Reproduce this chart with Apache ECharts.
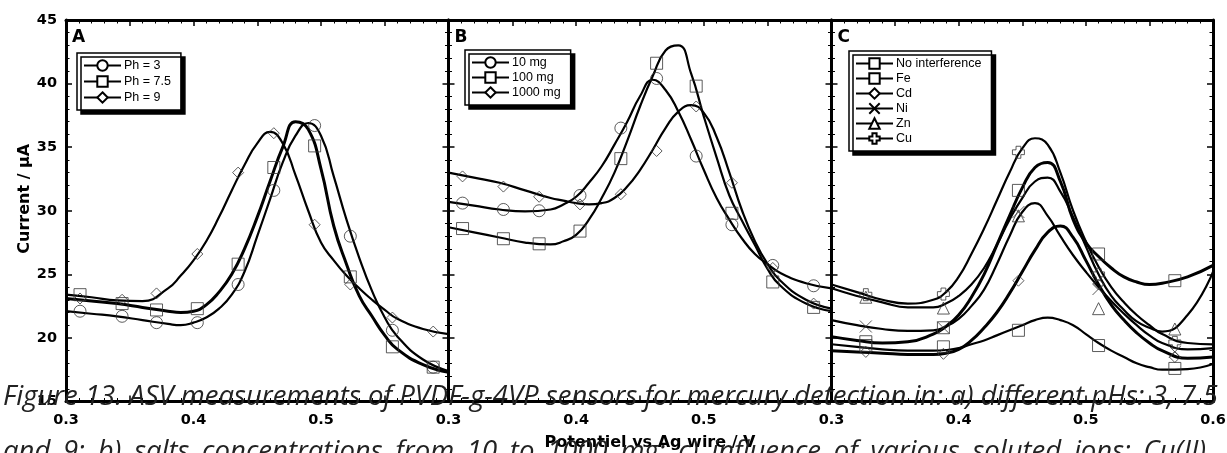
<!DOCTYPE html>
<html>
<head>
<meta charset="utf-8">
<title>ASV measurements of PVDF-g-4VP sensors</title>
<script src="https://cdn.jsdelivr.net/npm/echarts@6.0.0/dist/echarts.min.js"></script>
<style>
    html, body {margin: 0; padding: 0; background: #fff;}
    #chart {width: 1227px; height: 453px;}
</style>
</head>
<body>
<div id="chart"></div>
<script>
var curveX = [0.30, 0.32, 0.34, 0.36, 0.38, 0.39, 0.40, 0.41, 0.42, 0.43, 0.44, 0.45, 0.46,
    0.47, 0.48, 0.49, 0.50, 0.51, 0.52, 0.53, 0.54, 0.55, 0.56, 0.58, 0.60];

// A - pH
var ph3Curve = [22.1, 21.9, 21.7, 21.4, 21.1, 21.0, 21.2, 21.6, 22.3, 23.4, 25.2, 28.0, 30.9,
    33.8, 35.9, 36.9, 35.9, 32.7, 29.3, 26.3, 23.7, 21.6, 20.1, 18.3, 17.4];
var ph75Curve = [23.1, 22.9, 22.7, 22.4, 22.1, 22.0, 22.1, 22.6, 23.6, 25.0, 27.0, 29.5, 32.3,
    35.0, 37.0, 36.4, 33.3, 28.8, 25.8, 23.3, 21.7, 20.2, 19.1, 17.9, 17.3];
var ph9Curve = [23.4, 23.2, 22.95, 22.9, 23.9, 24.9, 26.1, 27.6, 29.5, 31.6, 33.6, 35.3, 36.2,
    35.3, 32.8, 30.0, 27.5, 26.1, 24.9, 23.9, 23.0, 22.2, 21.5, 20.7, 20.3];
var phPointX = [0.311, 0.344, 0.371, 0.403, 0.435, 0.463, 0.495, 0.523, 0.556, 0.588];
var ph3Points = [22.1, 21.7, 21.2, 21.2, 24.2, 31.6, 36.7, 28.0, 20.6, 17.7];
var ph75Points = [23.4, 22.7, 22.2, 22.3, 25.8, 33.4, 35.1, 24.8, 19.3, 17.7];
var ph9Points = [23.1, 23.0, 23.5, 26.6, 33.0, 36.1, 28.9, 24.2, 21.6, 20.5];

// B - salt concentration
var mg10Curve = [30.7, 30.4, 30.1, 29.95, 30.1, 30.5, 31.1, 32.2, 33.5, 35.2, 37.0, 39.0, 40.3,
    39.5, 37.8, 35.6, 33.2, 31.0, 29.3, 27.8, 26.6, 25.8, 25.1, 24.3, 23.9];
var mg100Curve = [28.7, 28.3, 27.9, 27.5, 27.35, 27.6, 28.1, 29.3, 31.0, 33.0, 35.5, 38.2, 40.6,
    42.6, 43.0, 40.8, 37.4, 34.2, 31.2, 29.2, 27.3, 25.4, 24.1, 22.7, 22.1];
var mg1000Curve = [33.0, 32.6, 32.2, 31.6, 31.0, 30.8, 30.6, 30.5, 30.6, 31.0, 31.9, 33.2, 34.8,
    36.5, 37.8, 38.3, 37.7, 35.8, 33.0, 30.0, 27.6, 25.8, 24.5, 23.0, 22.3];
var saltPointX = [0.311, 0.343, 0.371, 0.403, 0.435, 0.463, 0.494, 0.522, 0.554, 0.586];
var mg10Points = [30.6, 30.1, 30.0, 31.2, 36.5, 40.4, 34.3, 28.9, 25.7, 24.1];
var mg100Points = [28.6, 27.8, 27.4, 28.4, 34.1, 41.6, 39.8, 29.8, 24.4, 22.4];
var mg1000Points = [32.7, 31.9, 31.1, 30.5, 31.3, 34.7, 38.2, 32.2, 25.5, 22.7];

// C - interfering ions
var noIntCurve = [20.1, 19.8, 19.6, 19.7, 20.3, 20.9, 21.8, 23.2, 25.0, 27.3, 29.6, 31.8, 33.4,
    33.8, 32.3, 29.3, 27.5, 26.4, 25.5, 24.8, 24.4, 24.2, 24.3, 24.8, 25.7];
var feCurve = [19.5, 19.3, 19.1, 19.0, 19.0, 19.05, 19.2, 19.5, 19.8, 20.2, 20.6, 21.0, 21.4,
    21.6, 21.4, 21.0, 20.3, 19.6, 19.0, 18.5, 18.0, 17.7, 17.5, 17.55, 17.95];
var cdCurve = [19.0, 18.9, 18.8, 18.7, 18.7, 18.8, 19.1, 19.8, 20.8, 22.0, 23.5, 25.2, 26.9,
    28.3, 28.8, 27.9, 26.1, 24.2, 22.6, 21.4, 20.4, 19.6, 19.0, 18.4, 18.5];
var niCurve = [21.4, 21.0, 20.7, 20.55, 20.6, 20.9, 21.5, 22.5, 23.8, 25.8, 28.0, 29.9, 30.6,
    29.6, 28.0, 26.5, 25.2, 24.0, 22.9, 21.9, 21.0, 20.2, 19.6, 19.1, 19.2];
var znCurve = [23.9, 23.3, 22.8, 22.4, 22.4, 22.7, 23.3, 24.2, 25.5, 27.3, 29.3, 31.0, 32.3,
    32.6, 31.5, 29.5, 27.2, 25.0, 23.3, 22.2, 21.3, 20.8, 20.5, 21.8, 25.2];
var cuCurve = [24.2, 23.6, 23.0, 22.7, 23.0, 23.6, 24.8, 26.6, 28.6, 30.8, 33.0, 34.9, 35.7,
    35.2, 33.0, 30.0, 27.6, 25.6, 24.0, 22.8, 21.8, 21.0, 20.3, 19.6, 19.5];
var ionPointX = [0.327, 0.388, 0.447, 0.510, 0.570];
var noIntPoints = [19.7, 20.8, 31.6, 26.6, 24.5];
var fePoints = [19.4, 19.3, 20.6, 19.4, 17.6];
var cdPoints = [18.9, 18.75, 24.5, 24.2, 18.5];
var niPoints = [20.9, 20.8, 29.9, 23.85, 18.9];
var znPoints = [23.2, 22.35, 29.6, 22.3, 20.7];
var cuPoints = [23.4, 23.45, 34.6, 25.0, 19.65];

var xTicks = [0.3, 0.4, 0.5, 0.6];
var panelNames = ['A', 'B', 'C'];

var SYM_CROSS = 'path://M0,0L10,10M10,0L0,10';
var SYM_PLUS = 'path://M3,0H7V3H10V7H7V10H3V7H0V3H3Z';

var BOLD = 'DejaVu Sans';

function pairs(xs, ys) {
    var out = [];
    for (var i = 0; i < xs.length; i++) {
        out.push([xs[i], ys[i]]);
    }
    return out;
}

function curve(name, ys, panel, width, symbol) {
    return {
        name: name,
        type: 'line',
        xAxisIndex: panel * 2,
        yAxisIndex: panel * 2,
        data: pairs(curveX, ys),
        smooth: 0.5,
        showSymbol: false,
        symbol: symbol,
        symbolSize: 10,
        lineStyle: {color: '#000', width: width},
        itemStyle: {color: '#fff', borderColor: '#000', borderWidth: 1},
        emphasis: {disabled: true},
        silent: true,
        z: 3
    };
}

function points(name, xs, ys, panel, symbol, size) {
    return {
        name: name,
        type: 'scatter',
        xAxisIndex: panel * 2,
        yAxisIndex: panel * 2,
        data: pairs(xs, ys),
        symbol: symbol,
        symbolSize: size,
        itemStyle: {color: 'rgba(0,0,0,0)', borderColor: '#333', borderWidth: 1},
        emphasis: {disabled: true},
        silent: true,
        z: 4
    };
}

function xLabel(panel) {
    return function (v) {
        var k = Math.round(v * 100);
        if (k % 10 !== 0) return '';
        if (panel < 2 && k === 60) return '';    // sits under the next panel's 0.3
        return xTicks[k / 10 - 3].toFixed(1);
    };
}

var frameLine = {lineStyle: {color: '#000', width: 3}, onZero: false};
var majorTick = {inside: true, length: 6, lineStyle: {color: '#000', width: 1.5}};
var minorTick = {show: true, splitNumber: 5, length: 3.5, lineStyle: {color: '#000', width: 1}};

var grids = [], xAxes = [], yAxes = [], titles = [];
var gridLeft = [66, 448.5, 831.5];
var gridWidth = [382.5, 383, 381.5];

for (var p = 0; p < 3; p++) {
    grids.push({left: gridLeft[p], width: gridWidth[p], top: 20, height: 381.5, outerBoundsMode: 'none'});
    xAxes.push({
        gridIndex: p, type: 'value', min: 0.3, max: 0.6, interval: 0.05, position: 'bottom',
        axisLine: frameLine, axisTick: majorTick, minorTick: minorTick, splitLine: {show: false},
        axisLabel: {
            margin: 11, color: '#000', fontFamily: BOLD, fontWeight: 'bold', fontSize: 14.5,
            formatter: xLabel(p)
        },
        name: p === 1 ? 'Potentiel vs Ag wire / V' : '',
        nameLocation: 'middle',
        nameGap: 33,
        nameTextStyle: {color: '#000', fontFamily: BOLD, fontWeight: 'bold', fontSize: 16, padding: [0, 0, 0, 20]}
    });
    xAxes.push({
        gridIndex: p, type: 'value', min: 0.3, max: 0.6, interval: 0.05, position: 'top',
        axisLine: frameLine, axisTick: majorTick, minorTick: minorTick, splitLine: {show: false},
        axisLabel: {show: false}
    });
    yAxes.push({
        gridIndex: p, type: 'value', min: 15, max: 45, interval: 5, position: 'left',
        axisLine: frameLine, axisTick: majorTick, minorTick: minorTick, splitLine: {show: false},
        axisLabel: {
            show: p === 0, margin: 9, color: '#000', fontFamily: BOLD, fontWeight: 'bold', fontSize: 14.5
        },
        name: p === 0 ? 'Current / µA' : '',
        nameLocation: 'middle',
        nameGap: 33,
        nameTextStyle: {color: '#000', fontFamily: BOLD, fontWeight: 'bold', fontSize: 16, padding: [0, 0, 0, 24]}
    });
    yAxes.push({
        gridIndex: p, type: 'value', min: 15, max: 45, interval: 5, position: 'right',
        axisLine: frameLine, axisTick: majorTick, minorTick: minorTick, splitLine: {show: false},
        axisLabel: {show: false}
    });
    titles.push({
        text: panelNames[p], left: gridLeft[p] + 6, top: 29, padding: 0,
        textStyle: {color: '#000', fontFamily: BOLD, fontWeight: 'bold', fontSize: 17}
    });
}

function legendBox(names, left, top, gap) {
    return {
        data: names, orient: 'vertical', left: left, top: top,
        itemWidth: 37, itemHeight: 13, itemGap: gap, padding: [6, 10, 6, 6],
        selectedMode: false,
        backgroundColor: '#fff', borderColor: '#000', borderWidth: 1.5,
        shadowColor: '#000', shadowBlur: 0, shadowOffsetX: 4, shadowOffsetY: 4,
        textStyle: {color: '#000', fontFamily: 'Liberation Sans', fontSize: 12.5, padding: [0, 0, 0, -2]}
    };
}

var series = [
    curve('Ph = 3', ph3Curve, 0, 2.2, 'circle'),
    curve('Ph = 7.5', ph75Curve, 0, 3, 'rect'),
    curve('Ph = 9', ph9Curve, 0, 2.2, 'diamond'),
    curve('10 mg', mg10Curve, 1, 2.2, 'circle'),
    curve('100 mg', mg100Curve, 1, 2.2, 'rect'),
    curve('1000 mg', mg1000Curve, 1, 2.2, 'diamond'),
    curve('No interference', noIntCurve, 2, 3, 'rect'),
    curve('Fe', feCurve, 2, 2.2, 'rect'),
    curve('Cd', cdCurve, 2, 3, 'diamond'),
    curve('Ni', niCurve, 2, 2.2, SYM_CROSS),
    curve('Zn', znCurve, 2, 2.2, 'triangle'),
    curve('Cu', cuCurve, 2, 2.2, SYM_PLUS),

    points('Ph = 3', phPointX, ph3Points, 0, 'circle', 12),
    points('Ph = 7.5', phPointX, ph75Points, 0, 'rect', 12),
    points('Ph = 9', phPointX, ph9Points, 0, 'diamond', 11),
    points('10 mg', saltPointX, mg10Points, 1, 'circle', 12),
    points('100 mg', saltPointX, mg100Points, 1, 'rect', 12),
    points('1000 mg', saltPointX, mg1000Points, 1, 'diamond', 11),
    points('No interference', ionPointX, noIntPoints, 2, 'rect', 12),
    points('Fe', ionPointX, fePoints, 2, 'rect', 12),
    points('Cd', ionPointX, cdPoints, 2, 'diamond', 11),
    points('Ni', ionPointX, niPoints, 2, SYM_CROSS, 12),
    points('Zn', ionPointX, znPoints, 2, 'triangle', 12),
    points('Cu', ionPointX, cuPoints, 2, SYM_PLUS, 12)
];

// the caption of the page the figure was cut from runs over its bottom edge
var captionLine1 = 'Figure 13. ASV measurements of PVDF-g-4VP sensors for mercury detection in: a) different pHs: 3, 7.5';
var captionLine2 = 'and 9; b) salts concentrations from 10 to 1000 mg; c) influence of various soluted ions: Cu(II),';
var captionFont = 'italic 27.5px "Open Sans"';

// lay a line out word by word, justified between x0 and x1 like the document text
function justified(text, top, x0, x1) {
    var ctx = document.createElement('canvas').getContext('2d');
    ctx.font = captionFont;
    var words = text.split(' ');
    var widths = [], total = 0;
    for (var i = 0; i < words.length; i++) {
        widths.push(ctx.measureText(words[i]).width);
        total += widths[i];
    }
    var gap = (x1 - x0 - total) / (words.length - 1);
    var out = [], x = x0;
    for (var j = 0; j < words.length; j++) {
        out.push({
            type: 'text', left: x, top: top, z: 100, silent: true,
            style: {text: words[j], font: captionFont, fill: '#222'}
        });
        x += widths[j] + gap;
    }
    return out;
}

var option = {
    backgroundColor: '#fff',
    animation: false,
    title: titles,
    grid: grids,
    xAxis: xAxes,
    yAxis: yAxes,
    legend: [
        legendBox(['Ph = 3', 'Ph = 7.5', 'Ph = 9'], 77, 53, 3),
        legendBox(['10 mg', '100 mg', '1000 mg'], 465, 50, 2),
        legendBox(['No interference', 'Fe', 'Cd', 'Ni', 'Zn', 'Cu'], 849, 51, 2)
    ],
    series: series,
    graphic: justified(captionLine1, 384, 3, 1218).concat(justified(captionLine2, 439, 3, 1213))
};

var myChart = echarts.init(document.getElementById('chart'));
myChart.setOption(option);
</script>
</body>
</html>
